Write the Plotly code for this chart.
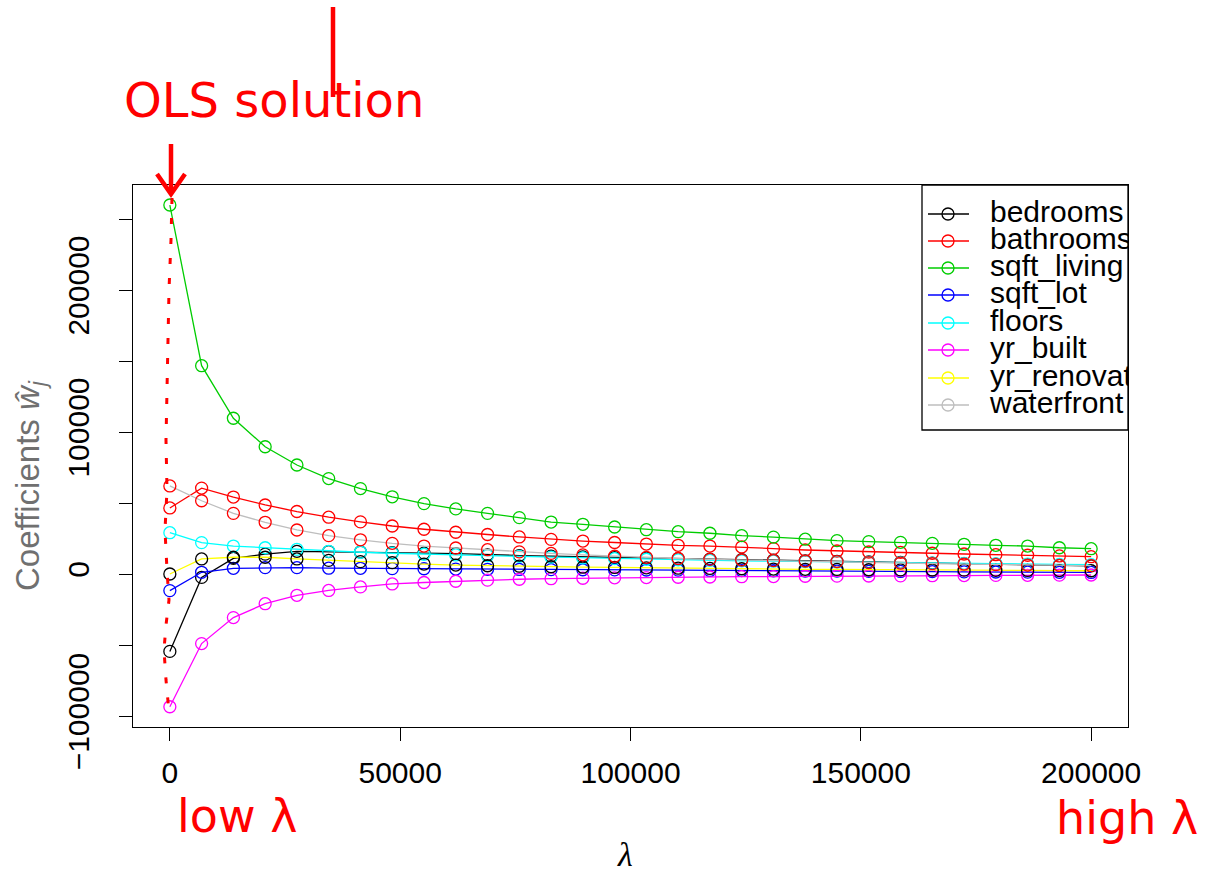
import plotly.graph_objects as go

# ---------------- data ----------------
lambdas = [0, 6897, 13793, 20690, 27586, 34483, 41379, 48276, 55172, 62069,
           68966, 75862, 82759, 89655, 96552, 103448, 110345, 117241, 124138, 131034,
           137931, 144828, 151724, 158621, 165517, 172414, 179310, 186207, 193103, 200000]

bedrooms = [-54500, -2400, 11000, 14000, 16000, 15800, 15500, 15100, 14700, 14300,
            13500, 13000, 12500, 12000, 11600, 11200, 10800, 10500, 10100, 9700,
            9300, 8900, 8500, 8100, 7700, 7300, 6900, 6500, 6100, 5700]
bathrooms = [46500, 60500, 54200, 48600, 44000, 40000, 36700, 33800, 31500, 29400,
             27800, 26100, 24400, 23200, 22200, 21100, 20200, 19700, 19000, 17900,
             16900, 16200, 15500, 15200, 14600, 14100, 13600, 13200, 12700, 12200]
sqft_living = [259850, 146700, 109700, 89600, 76760, 67200, 60150, 54370, 49580, 45840,
               42700, 39700, 36600, 35000, 33100, 31200, 29800, 28700, 27000, 26000,
               24500, 23500, 22800, 22300, 21600, 20900, 20200, 19700, 18500, 17800]
sqft_lot = [-11700, 1200, 4000, 4500, 4500, 4100, 4000, 3800, 3700, 3500,
            3300, 3200, 3100, 3000, 2900, 2800, 2700, 2500, 2400, 2300,
            2100, 2000, 1900, 1800, 1700, 1500, 1400, 1300, 1200, 1100]
floors = [29100, 22100, 19700, 18500, 17400, 16000, 15300, 14600, 13900, 13400,
          12900, 12400, 11900, 11300, 10800, 10400, 10000, 9600, 9300, 9000,
          8700, 8400, 8100, 7900, 7600, 7400, 7200, 7000, 6800, 6600]
yr_built = [-93500, -49000, -30700, -20900, -15000, -11600, -9100, -7000, -6000, -5100,
            -4300, -3700, -3300, -3000, -2700, -2500, -2300, -2100, -1900, -1800,
            -1600, -1500, -1400, -1300, -1200, -1100, -1000, -900, -800, -700]
yr_renovated = [0, 10600, 11800, 11800, 10600, 9600, 8700, 8000, 7000, 6300,
                5800, 5500, 5100, 4800, 4600, 4300, 4100, 3900, 3700, 3500,
                3300, 3200, 3000, 2900, 2800, 2700, 2600, 2500, 2400, 2300]
waterfront = [62000, 51600, 42700, 36400, 31000, 27000, 24100, 21600, 19700, 18300,
              17100, 15600, 14500, 13500, 12500, 11700, 10900, 10300, 9800, 9400,
              9100, 8700, 8000, 7700, 7300, 7000, 6600, 6300, 6100, 5900]

series_names = ["bedrooms", "bathrooms", "sqft_living", "sqft_lot",
                "floors", "yr_built", "yr_renovated", "waterfront"]
series_values = [bedrooms, bathrooms, sqft_living, sqft_lot,
                 floors, yr_built, yr_renovated, waterfront]

x_ticks = [0, 50000, 100000, 150000, 200000]
x_tick_labels = ["0", "50000", "100000", "150000", "200000"]
y_ticks = [-100000, 0, 100000, 200000]
y_tick_labels = ["\u2212100000", "0", "100000", "200000"]
y_minor_ticks = [-50000, 50000, 150000, 250000]

# ---------------- styling ----------------
line_colors = ["#000000", "#FF0000", "#00CD00", "#0000FF",
               "#00FFFF", "#FF00FF", "#FFFF00", "#BEBEBE"]
# R recycles 6 point colours: series 7 and 8 get black / red circles
point_colors = ["#000000", "#FF0000", "#00CD00", "#0000FF",
                "#00FFFF", "#FF00FF", "#000000", "#FF0000"]

W, H = 1220, 873
L, R, T, B = 133, 1128, 185, 727
FONT = "Liberation Sans, Arial, Helvetica, sans-serif"
HAND = "DejaVu Sans, sans-serif"
RED = "#FF0000"


def px(xp):
    return (xp - L) / (R - L)


def py(yp):
    return (B - yp) / (B - T)


fig = go.Figure()

for name, vals, lc, pc in zip(series_names, series_values, line_colors, point_colors):
    fig.add_trace(go.Scatter(
        x=lambdas, y=vals, mode="lines+markers", name=name,
        line=dict(color=lc, width=1.3),
        marker=dict(symbol="circle-open", size=12, color=pc, line=dict(width=1.3, color=pc)),
        showlegend=False, cliponaxis=False,
    ))

# ---------------- manual legend on an overlay [0,1] axis (clipped at plot edge) -------
leg_rows = [214, 241, 268, 295, 323, 350, 378, 405]
for name, lc, yrow in zip(series_names, line_colors, leg_rows):
    fig.add_trace(go.Scatter(
        x=[px(928), px(969)], y=[py(yrow), py(yrow)], mode="lines",
        line=dict(color=lc, width=1.3), xaxis="x2", yaxis="y2",
        showlegend=False, hoverinfo="skip"))
    fig.add_trace(go.Scatter(
        x=[px(948)], y=[py(yrow)], mode="markers",
        marker=dict(symbol="circle-open", size=12, color=lc, line=dict(width=1.3, color=lc)),
        xaxis="x2", yaxis="y2", showlegend=False, hoverinfo="skip"))
    fig.add_trace(go.Scatter(
        x=[px(990)], y=[py(yrow)], mode="text", text=[name],
        textposition="middle right", textfont=dict(family=FONT, size=30, color="black"),
        xaxis="x2", yaxis="y2", showlegend=False, hoverinfo="skip", cliponaxis=True))

shapes = [
    # legend box
    dict(type="rect", xref="paper", yref="paper", x0=px(922), x1=1.0, y0=py(430), y1=1.0,
         line=dict(color="black", width=1.3), fillcolor="rgba(0,0,0,0)", layer="above"),
    # hand-drawn marks
    dict(type="line", xref="paper", yref="paper", x0=px(333), x1=px(333), y0=py(7), y1=py(97),
         line=dict(color=RED, width=4.5)),
    dict(type="line", xref="paper", yref="paper", x0=px(171), x1=px(171), y0=py(144), y1=py(193),
         line=dict(color=RED, width=4.5)),
    dict(type="path", xref="paper", yref="paper",
         path="M {} {} L {} {} L {} {}".format(px(157), py(174), px(171), py(194), px(185), py(174)),
         line=dict(color=RED, width=4.5)),
]

curve_pts = [(172, 198), (171, 240), (169, 290), (168, 340), (167, 390), (166, 440),
             (167, 490), (165, 530), (167, 570), (169, 600), (166, 625), (164, 650),
             (166, 680), (169, 712)]
path = "M " + " L ".join("{} {}".format(px(a), py(b)) for a, b in curve_pts)
shapes.append(dict(type="path", xref="paper", yref="paper", path=path,
                   line=dict(color=RED, width=3, dash="6px,14px")))

annotations = [
    dict(text="OLS solution", xref="paper", yref="paper", x=px(274), y=py(100),
         showarrow=False, font=dict(family=HAND, size=48, color=RED),
         xanchor="center", yanchor="middle"),
    dict(text="low \u03bb", xref="paper", yref="paper", x=px(237), y=py(816),
         showarrow=False, font=dict(family=HAND, size=46, color=RED),
         xanchor="center", yanchor="middle"),
    dict(text="high \u03bb", xref="paper", yref="paper", x=px(1127), y=py(818),
         showarrow=False, font=dict(family=HAND, size=46, color=RED),
         xanchor="center", yanchor="middle"),
    dict(text="Coefficients <i>\u0175</i><sub><i>j</i></sub>", xref="paper", yref="paper",
         x=px(30), y=py(486), showarrow=False, textangle=-90,
         font=dict(family=FONT, size=33, color="#707070"),
         xanchor="center", yanchor="middle"),
    dict(text="<i>\u03bb</i>", xref="paper", yref="paper", x=px(625), y=py(854),
         showarrow=False, font=dict(family="Liberation Serif, serif", size=34, color="black"),
         xanchor="center", yanchor="middle"),
]

fig.update_layout(
    width=W, height=H,
    margin=dict(l=L, r=W - R, t=T, b=H - B, pad=0),
    paper_bgcolor="white", plot_bgcolor="white",
    showlegend=False,
    xaxis=dict(range=[-8000, 208000], tickvals=x_ticks, ticktext=x_tick_labels,
               ticks="outside", ticklen=13, tickwidth=1.3, tickcolor="black",
               showline=True, linecolor="black", linewidth=1.3, mirror=True,
               showgrid=False, zeroline=False, ticklabelstandoff=6,
               tickfont=dict(family=FONT, size=30, color="black")),
    yaxis=dict(range=[-107746, 273944], tickvals=y_ticks, ticktext=y_tick_labels,
               ticks="outside", ticklen=13, tickwidth=1.3, tickcolor="black",
               minor=dict(tickvals=y_minor_ticks, ticks="outside", ticklen=13,
                          tickwidth=1.3, tickcolor="black", showgrid=False),
               showline=True, linecolor="black", linewidth=1.3, mirror=True,
               showgrid=False, zeroline=False, tickangle=-90, ticklabelstandoff=18,
               tickfont=dict(family=FONT, size=30, color="black")),
    xaxis2=dict(overlaying="x", range=[0, 1], visible=False, fixedrange=True),
    yaxis2=dict(overlaying="y", range=[0, 1], visible=False, fixedrange=True),
    shapes=shapes,
    annotations=annotations,
)

fig.write_html("out.html")
